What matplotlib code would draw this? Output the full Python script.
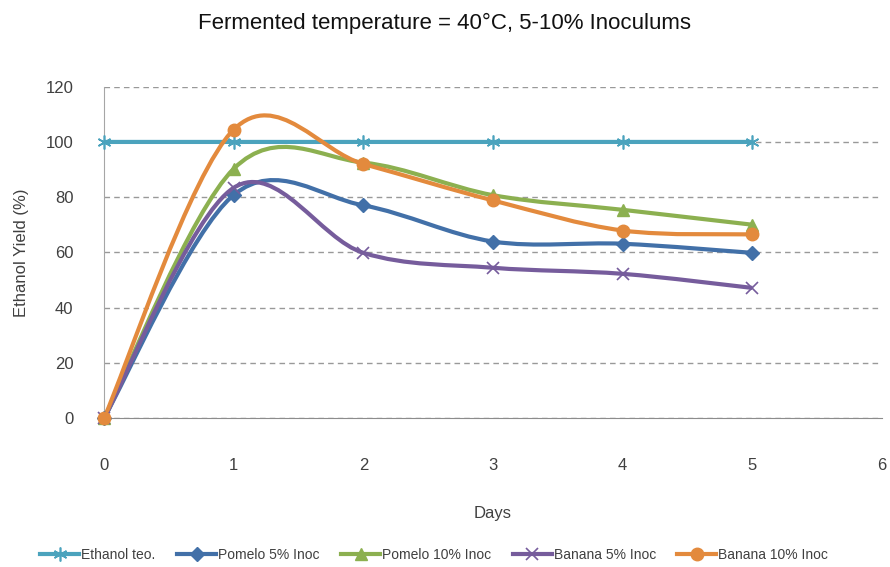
import numpy as np
import matplotlib
matplotlib.use("Agg")
import matplotlib.pyplot as plt
from matplotlib.path import Path
from matplotlib.patches import PathPatch
from matplotlib.lines import Line2D

plt.rcParams['font.family'] = ['Liberation Sans', 'DejaVu Sans']

# data
days = [0, 1, 2, 3, 4, 5]
ethanol_teo = [100, 100, 100, 100, 100, 100]
pomelo_5 = [0, 80.8, 77.0, 63.9, 63.1, 59.8]
pomelo_10 = [0, 90.3, 92.5, 80.7, 75.4, 70.0]
banana_5 = [0, 83.4, 59.8, 54.4, 52.2, 47.1]
banana_10 = [0, 104.5, 92.0, 78.8, 67.9, 66.5]

labels = ["Ethanol teo.", "Pomelo 5% Inoc", "Pomelo 10% Inoc", "Banana 5% Inoc", "Banana 10% Inoc"]
series = [ethanol_teo, pomelo_5, pomelo_10, banana_5, banana_10]
colors = ["#4BA3BD", "#4270A8", "#8CB050", "#765C9C", "#E38A3D"]
markers = [(6, 2, 0), "D", "^", "x", "o"]
msizes = [10, 7, 8, 9, 9]


def smooth_path(x, y):
    # excel style smoothed line: cubic bezier through each point
    pts = np.column_stack([x, y]).astype(float)
    n = len(pts)
    verts = [pts[0]]
    codes = [Path.MOVETO]
    for i in range(n - 1):
        p0 = pts[i - 1] if i > 0 else pts[i]
        p1 = pts[i]
        p2 = pts[i + 1]
        p3 = pts[i + 2] if i + 2 < n else pts[i + 1]
        c1 = p1 + (p2 - p0) / 6.0
        c2 = p2 - (p3 - p1) / 6.0
        verts += [c1, c2, p2]
        codes += [Path.CURVE4] * 3
    return Path(verts, codes)


fig = plt.figure(figsize=(8.9, 5.67), dpi=100)
ax = fig.add_axes([0.117, 0.263, 0.874, 0.584])

handles = []
for vals, lab, c, m, ms in zip(series, labels, colors, markers, msizes):
    patch = PathPatch(smooth_path(days, vals), fill=False, edgecolor=c, lw=3, zorder=3)
    ax.add_patch(patch)
    mw = 1.2 if m in ["x", (6, 2, 0)] else 1
    ax.plot(days, vals, linestyle="none", marker=m, color=c, markersize=ms,
            markeredgewidth=mw, zorder=4, clip_on=False)
    handles.append(Line2D([], [], color=c, lw=3, marker=m, markersize=ms, markeredgewidth=mw))

ax.set_xlim(0, 6)
ax.set_ylim(0, 120)
ax.set_xticks(range(0, 7))
ax.set_yticks(range(0, 121, 20))
ax.yaxis.grid(True, linestyle=(0, (4, 3)), color="#999999", lw=1)
ax.set_axisbelow(True)
for s in ["top", "right"]:
    ax.spines[s].set_visible(False)
ax.spines["left"].set_color("#A6A6A6")
ax.spines["bottom"].set_color("#8C8C8C")
ax.tick_params(axis="both", length=0, labelsize=12, labelcolor="#404040")
ax.tick_params(axis="x", pad=29)
ax.tick_params(axis="y", pad=22)

ax.set_xlabel("Days", fontsize=12, color="#404040", labelpad=24)
ax.set_ylabel("Ethanol Yield (%)", fontsize=12, color="#404040", labelpad=12)
fig.suptitle("Fermented temperature = 40°C, 5-10% Inoculums", fontsize=16, y=0.978, color="#111111")

fig.legend(handles, labels, loc="center", bbox_to_anchor=(0.488, 0.021), ncol=5, frameon=False,
           fontsize=10, handlelength=2.8, handletextpad=0.15, columnspacing=1.55,
           labelcolor="#404040")

fig.savefig("out.png", dpi=100)
